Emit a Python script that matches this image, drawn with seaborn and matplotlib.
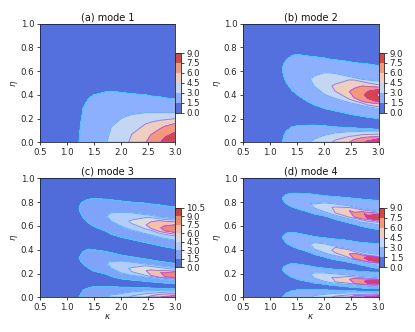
import numpy as np
import matplotlib
matplotlib.use("Agg")
import matplotlib.pyplot as plt
from matplotlib.colors import Normalize
import seaborn as sns

sns.set_theme(style="ticks", rc={"axes.linewidth": 0.6, "xtick.major.width": 0.6, "ytick.major.width": 0.6,
                                 "xtick.major.size": 2.5, "ytick.major.size": 2.5,
                                 "xtick.major.pad": 1.5, "ytick.major.pad": 1.5,
                                 "axes.edgecolor": "#222222", "text.color": "#111111",
                                 "xtick.labelsize": 6.2, "ytick.labelsize": 6.2})

kappa = [0.5, 1.2, 1.25, 1.3, 1.4, 1.5, 1.72, 1.82, 2.0, 2.1, 2.2, 2.45, 2.55, 2.7, 2.8, 3.0]
kappa_ticks = [0.5, 1.0, 1.5, 2.0, 2.5, 3.0]
eta_ticks = [0.0, 0.2, 0.4, 0.6, 0.8, 1.0]
levels_std = [0, 1.5, 3, 4.5, 6, 7.5, 9]
levels_c = [0, 1.5, 3, 4.5, 6, 7.5, 9, 10.5]
background = 0.3

peak_94 = [.5, 1.4, 1.6, 1.75, 2.05, 2.3, 2.95, 3.25, 3.9, 4.3, 4.8, 5.95, 6.4, 7.3, 7.9, 9.4]
peak_89 = [.5, 1.4, 1.6, 1.75, 2.05, 2.3, 2.95, 3.25, 3.9, 4.3, 4.8, 5.95, 6.4, 7.3, 7.9, 8.9]
peak_84 = [.5, 1.4, 1.6, 1.75, 2.05, 2.3, 2.95, 3.25, 3.9, 4.3, 4.8, 5.95, 6.4, 7.3, 7.9, 8.4]
ridge_floor = [0.001] * 16

# Each lobe: ridge eta, peak value, eta of each level below and above the ridge
# (lists are aligned to the right-hand end of kappa)
a_bottom = dict(ridge=ridge_floor, peak=peak_94, low={}, high={
    1.5: [.14, .29, .37, .40, .425, .43, .42, .415, .41, .40, .39, .385, .375, .365],
    3: [.13, .20, .22, .235, .25, .25, .25, .25, .25],
    4.5: [.07, .155, .17, .185, .19, .20],
    6: [.065, .11, .135, .16],
    7.5: [.04, .085],
    9: [.004]})

b_bottom = dict(ridge=ridge_floor, peak=peak_94, low={}, high={
    1.5: [.05, .095, .13, .14, .145, .145, .14, .135, .13, .125, .122, .117, .115, .11],
    3: [.03, .06, .07, .08, .09, .09, .093, .095, .095],
    4.5: [.02, .05, .055, .065, .067, .07],
    6: [.025, .04, .045, .05],
    7.5: [.012, .03],
    9: [.012]})
b_gap = [.3, .3, .3, .3, .28, .25, .22, .21, .2, .195, .19, .178, .173, .165, .16, .155]
b_upper = dict(ridge=[.62, .62, .61, .60, .585, .57, .535, .515, .495, .48, .465, .43, .415, .40, .397, .395],
               peak=peak_94, low={
    1.5: [.56, .50, .44, .40, .335, .315, .285, .275, .265, .24, .23, .22, .212, .20],
    3: [.47, .405, .385, .37, .335, .325, .31, .30, .285],
    4.5: [.43, .365, .35, .33, .315, .30],
    6: [.375, .345, .335, .325],
    7.5: [.37, .34],
    9: [.385]}, high={
    1.5: [.66, .695, .73, .74, .725, .72, .71, .70, .695, .68, .67, .665, .66, .645],
    3: [.56, .585, .585, .58, .555, .545, .53, .525, .515],
    4.5: [.49, .525, .525, .51, .50, .485],
    6: [.455, .475, .47, .465],
    7.5: [.43, .445],
    9: [.41]})

c_bottom = dict(ridge=ridge_floor, peak=peak_84, low={}, high={
    1.5: [.02, .06, .08, .09, .09, .09, .085, .085, .083, .08, .078, .075, .073, .07],
    3: [.02, .03, .04, .045, .055, .055, .058, .058, .06],
    4.5: [.012, .03, .033, .04, .042, .045],
    6: [.012, .025, .027, .03],
    7.5: [.007, .015]})
c_gap_1 = [.2, .2, .2, .2, .17, .15, .13, .125, .115, .115, .112, .105, .103, .1, .097, .092]
c_middle = dict(ridge=[.33, .33, .33, .33, .325, .31, .295, .275, .25, .245, .24, .225, .22, .21, .205, .19],
                peak=peak_84, low={
    1.5: [.31, .28, .245, .22, .195, .175, .155, .15, .145, .135, .13, .125, .12, .115],
    3: [.245, .205, .195, .185, .17, .165, .155, .15, .14],
    4.5: [.215, .185, .175, .165, .16, .15],
    6: [.185, .17, .165, .16],
    7.5: [.175, .165]}, high={
    1.5: [.35, .385, .405, .40, .385, .375, .355, .347, .34, .322, .315, .303, .297, .285],
    3: [.30, .305, .30, .295, .28, .275, .265, .26, .25],
    4.5: [.25, .265, .26, .25, .245, .235],
    6: [.23, .225, .225, .22],
    7.5: [.205, .215]})
c_gap_2 = [.55, .55, .53, .525, .515, .5, .465, .45, .43, .42, .41, .39, .38, .365, .358, .345]
c_upper = dict(ridge=[.755, .755, .745, .74, .725, .71, .685, .672, .655, .645, .635, .61, .60, .585, .58, .57],
               peak=peak_84, low={
    1.5: [.71, .67, .625, .595, .555, .53, .505, .495, .485, .46, .45, .435, .425, .41],
    3: [.64, .60, .58, .565, .535, .525, .505, .495, .48],
    4.5: [.62, .575, .565, .54, .53, .515],
    6: [.58, .555, .545, .53],
    7.5: [.56, .545]}, high={
    1.5: [.78, .805, .825, .83, .825, .82, .81, .805, .80, .792, .785, .778, .77, .76],
    3: [.71, .715, .715, .71, .695, .69, .675, .67, .66],
    4.5: [.65, .67, .67, .66, .655, .65],
    6: [.635, .645, .64, .635],
    7.5: [.60, .61]})

d_bottom = dict(ridge=ridge_floor, peak=peak_94, low={}, high={
    1.5: [.01, .035, .055, .062, .065, .065, .062, .061, .06, .056, .054, .05, .048, .045],
    3: [.015, .025, .03, .033, .037, .037, .038, .038, .038],
    4.5: [.01, .02, .022, .025, .026, .028],
    6: [.012, .017, .018, .02],
    7.5: [.006, .012],
    9: [.005]})
d_gap_1 = [.1, .1, .1, .1, .11, .105, .097, .09, .085, .08, .08, .07, .068, .064, .062, .058]
d_third = dict(ridge=[.235, .235, .235, .235, .23, .22, .20, .19, .175, .17, .165, .152, .148, .135, .13, .125],
               peak=peak_89, low={
    1.5: [.215, .195, .17, .15, .13, .12, .11, .103, .098, .087, .083, .078, .075, .072],
    3: [.16, .135, .125, .118, .107, .103, .095, .092, .087],
    4.5: [.13, .118, .112, .105, .102, .098],
    6: [.118, .11, .107, .105],
    7.5: [.12, .112]}, high={
    1.5: [.255, .27, .285, .28, .265, .255, .245, .24, .235, .227, .222, .215, .213, .21],
    3: [.205, .205, .20, .197, .187, .183, .175, .172, .165],
    4.5: [.165, .175, .17, .165, .16, .155],
    6: [.158, .155, .153, .15],
    7.5: [.145, .145]})
d_gap_2 = [.37, .37, .37, .36, .36, .345, .32, .31, .295, .285, .275, .26, .255, .24, .235, .225]
d_second = dict(ridge=[.50, .50, .50, .50, .49, .48, .45, .435, .41, .40, .39, .365, .355, .335, .33, .315],
                peak=peak_89, low={
    1.5: [.485, .455, .43, .41, .38, .36, .34, .325, .315, .295, .285, .27, .26, .24],
    3: [.405, .375, .36, .35, .325, .315, .295, .285, .27],
    4.5: [.375, .335, .32, .305, .295, .285],
    6: [.325, .31, .30, .29],
    7.5: [.315, .295]}, high={
    1.5: [.52, .54, .545, .54, .52, .51, .50, .495, .49, .478, .47, .46, .457, .45],
    3: [.46, .45, .44, .43, .41, .40, .38, .372, .36],
    4.5: [.42, .40, .385, .365, .355, .345],
    6: [.37, .355, .35, .34],
    7.5: [.345, .335]})
d_gap_3 = [.67, .67, .665, .665, .65, .64, .62, .61, .595, .585, .57, .55, .54, .525, .52, .51]
d_upper = dict(ridge=[.83, .83, .83, .825, .82, .81, .795, .785, .77, .76, .75, .73, .72, .705, .695, .68],
               peak=peak_89, low={
    1.5: [.81, .785, .76, .745, .715, .70, .685, .67, .655, .625, .615, .595, .585, .57],
    3: [.75, .72, .705, .69, .66, .65, .63, .625, .61],
    4.5: [.71, .675, .665, .65, .64, .63],
    6: [.675, .66, .655, .64],
    7.5: [.665, .65]}, high={
    1.5: [.85, .865, .875, .875, .87, .865, .855, .85, .847, .837, .832, .825, .82, .815],
    3: [.785, .795, .79, .785, .77, .76, .745, .74, .725],
    4.5: [.76, .755, .75, .735, .73, .715],
    6: [.715, .72, .715, .705],
    7.5: [.69, .695]})

panels = [
    ("(a) mode 1", [a_bottom], [], levels_std, False),
    ("(b) mode 2", [b_bottom, b_upper], [b_gap], levels_std, False),
    ("(c) mode 3", [c_bottom, c_middle, c_upper], [c_gap_1, c_gap_2], levels_c, True),
    ("(d) mode 4", [d_bottom, d_third, d_second, d_upper], [d_gap_1, d_gap_2, d_gap_3], levels_std, True),
]
boxes_px = [(39.7, 23.5), (243.0, 23.5), (39.7, 178.4), (243.0, 178.4)]
cbar_top_px = [53, 53, 207.6, 207.6]


def build_mesh(lobes, gaps):
    n = len(kappa)
    ys, zs = [np.zeros(n)], [np.zeros(n)]
    for i, lobe in enumerate(lobes):
        ridge = np.array(lobe["ridge"], float)
        peak = np.array(lobe["peak"], float)
        def add(level, values):
            eta = np.full(n, np.nan)
            eta[n - len(values):] = values
            ys.append(np.where(np.isnan(eta), ridge, eta))
            zs.append(np.minimum(level, peak))
        for level in sorted(lobe["low"]):
            add(level, lobe["low"][level])
        ys.append(ridge)
        zs.append(peak)
        for level in sorted(lobe["high"], reverse=True):
            add(level, lobe["high"][level])
        if i < len(gaps):
            ys.append(np.array(gaps[i], float))
            zs.append(np.full(n, background))
    ys.append(np.ones(n))
    zs.append(np.full(n, background))
    return np.array(ys), np.array(zs)


W, H = 415, 332
fig = plt.figure(figsize=(W / 100, H / 100), dpi=100)
fill_cmap = sns.color_palette("coolwarm", as_cmap=True)
line_cmap = plt.get_cmap("cool")

for (title, lobes, gaps, levels, bottom), (x0, y0), cb_top in zip(panels, boxes_px, cbar_top_px):
    ax = fig.add_axes([x0 / W, 1 - (y0 + 118.9) / H, 135.6 / W, 118.9 / H])
    Y, Z = build_mesh(lobes, gaps)
    X = np.tile(np.array(kappa), (Y.shape[0], 1))
    norm = Normalize(levels[0], levels[-1])
    cf = ax.contourf(X, Y, Z, levels=levels, cmap=fill_cmap, norm=norm)
    ax.contour(X, Y, Z, levels=levels[1:], cmap=line_cmap, norm=norm, linewidths=0.65)
    ax.set_xlim(0.5, 3.0)
    ax.set_ylim(0.0, 1.0)
    ax.set_xticks(kappa_ticks)
    ax.set_yticks(eta_ticks)
    ax.set_title(title, fontsize=7, pad=2.5)
    ax.set_ylabel(r"$\eta$", fontsize=6.2)
    ax.yaxis.set_label_coords(-0.145, 0.5)
    if bottom:
        ax.set_xlabel(r"$\kappa$", fontsize=6.2)
        ax.xaxis.set_label_coords(0.5, -0.125)
    cax = fig.add_axes([(x0 + 135.6) / W, 1 - (cb_top + 59.8) / H, 5.4 / W, 59.8 / H])
    cb = fig.colorbar(cf, cax=cax)
    cb.set_ticks(levels)
    cb.ax.tick_params(labelsize=6.2, length=2.5, width=0.6, pad=1.5)
    cb.outline.set_linewidth(0.6)

fig.savefig("out.png", dpi=100)
